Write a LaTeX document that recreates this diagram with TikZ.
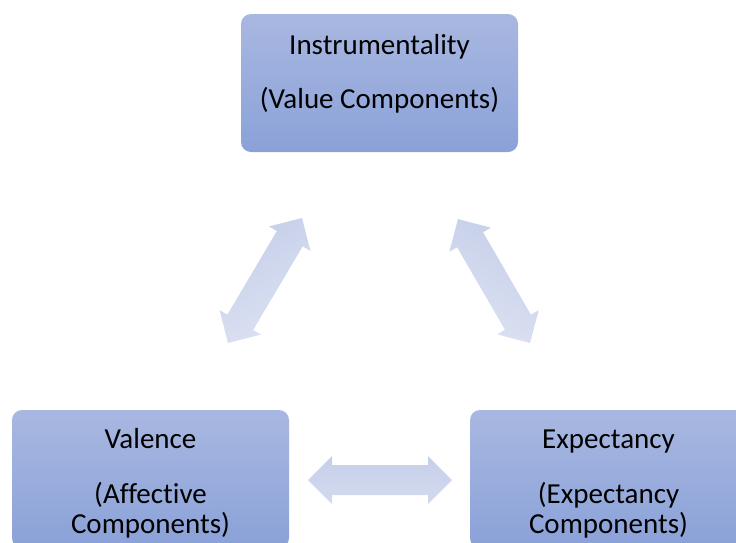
\documentclass[tikz,border=0pt]{standalone}
\usepackage{fontspec}
\setmainfont{Carlito}[Ligatures={NoCommon}]
\usetikzlibrary{calc}

\definecolor{boxtop}{HTML}{A9B8E1}
\definecolor{boxbot}{HTML}{8AA1D8}
\definecolor{arrowdark}{HTML}{C6CFEA}
\definecolor{arrowlight}{HTML}{DCE2F2}

\tikzset{
  box/.style={rounded corners=10pt, minimum width=277pt, minimum height=138pt,
    inner sep=0pt, top color=boxtop, bottom color=boxbot, draw=none},
  lbl/.style={font=\fontsize{29}{30}\selectfont, align=center, anchor=base,
    inner sep=0pt, text=black},
}

% double-headed block arrow between two named points
\newcommand\twowayarrow[3]{%
  \coordinate (ha) at ($(#1)!24pt!(#2)$);
  \coordinate (hb) at ($(#2)!24pt!(#1)$);
  \path[#3] (#1)
    -- ($(ha)!24pt!90:(#2)$) -- ($(ha)!15pt!90:(#2)$)
    -- ($(hb)!15pt!-90:(#1)$) -- ($(hb)!24pt!-90:(#1)$)
    -- (#2)
    -- ($(hb)!24pt!90:(#1)$) -- ($(hb)!15pt!90:(#1)$)
    -- ($(ha)!15pt!-90:(#2)$) -- ($(ha)!24pt!-90:(#2)$)
    -- cycle;
}

\begin{document}
\begin{tikzpicture}[x=1pt, y=-1pt]
  \useasboundingbox (0,0) rectangle (736,542);
  \clip (0,0) rectangle (736,542);

  % boxes
  \node[box] (instr) at (379.5,83) {};
  \node[box] (val) at (150.5,479) {};
  \node[box] (exp) at (608.5,479) {};

  % labels (anchored on the baseline of their last line)
  \node[lbl] (instrT) at (379.5,108) {Instrumentality\\[24pt](Value Components)};
  \node[lbl] (valT) at (150.5,533) {Valence\\[25pt](Affective\\Components)};
  \node[lbl] (expT) at (608.5,533) {Expectancy\\[25pt](Expectancy\\Components)};

  % arrow end points
  \coordinate (lA) at (228,343);
  \coordinate (lB) at (302,218);
  \coordinate (rA) at (458,219);
  \coordinate (rB) at (530,343);
  \coordinate (hA) at (308,480);
  \coordinate (hB) at (452,480);

  \twowayarrow{lA}{lB}{shade, left color=arrowdark, right color=arrowlight, shading angle=30}
  \twowayarrow{rA}{rB}{shade, left color=arrowdark, right color=arrowlight, shading angle=-30}
  \twowayarrow{hA}{hB}{shade, top color=arrowdark, bottom color=arrowlight!60!arrowdark}
\end{tikzpicture}
\end{document}
